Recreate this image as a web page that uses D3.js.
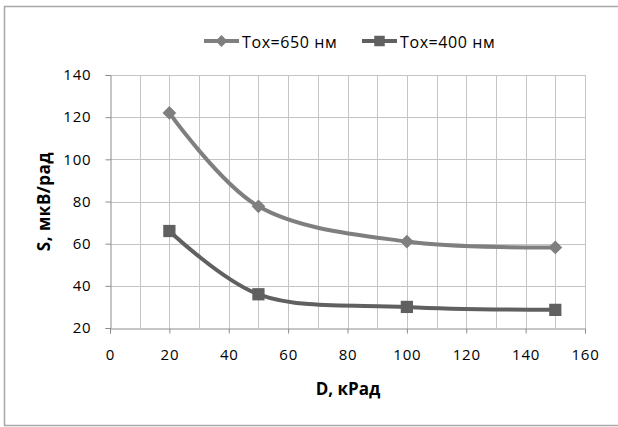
<!DOCTYPE html>
<html>
<head>
<meta charset="utf-8">
<script src="https://cdn.jsdelivr.net/npm/d3@7/dist/d3.min.js"></script>
<style>
  body { margin: 0; background: #fff; }
  svg { display: block; font-family: "Open Sans", "Liberation Sans", sans-serif; }
</style>
</head>
<body>
<svg id="chart" width="618" height="427"></svg>
<script>
// chart data
var doses = [20, 50, 100, 150];
var tox650 = [122, 77.7, 61, 58.2];
var tox400 = [66, 36, 30, 28.6];
var seriesNames = ["Tox=650 нм", "Tox=400 нм"];
var xTicks = [0, 20, 40, 60, 80, 100, 120, 140, 160];
var yTicks = [20, 40, 60, 80, 100, 120, 140];

var svg = d3.select("#chart");
// plot box (window.top is reserved, so prefixed names)
var plotLeft = 110, plotRight = 585, plotTop = 75, plotBottom = 328;

// outer frame of the chart area
svg.append("rect")
  .attr("x", 4.5).attr("y", 6.5)
  .attr("width", 640).attr("height", 419)
  .attr("fill", "none").attr("stroke", "#a6a6a6").attr("stroke-width", 1.5);

var x = d3.scaleLinear().domain([0, 160]).range([plotLeft, plotRight]);
var y = d3.scaleLinear().domain([20, 140]).range([plotBottom, plotTop]);

// gridlines: every 10 on x, every 20 on y
var grid = svg.append("g").attr("stroke", "#c4c4c4").attr("stroke-width", 1);
grid.selectAll(".vx").data(d3.range(10, 161, 10)).enter().append("line")
  .attr("x1", function (d) { return Math.round(x(d)) + 0.5; })
  .attr("x2", function (d) { return Math.round(x(d)) + 0.5; })
  .attr("y1", plotTop).attr("y2", plotBottom);
grid.selectAll(".hy").data(yTicks.slice(1)).enter().append("line")
  .attr("x1", plotLeft).attr("x2", plotRight)
  .attr("y1", function (d) { return Math.round(y(d)) + 0.5; })
  .attr("y2", function (d) { return Math.round(y(d)) + 0.5; });

// axes
var xAxis = svg.append("g")
  .attr("transform", "translate(0," + (Math.round(plotBottom) + 0.5) + ")")
  .call(d3.axisBottom(x).tickValues(xTicks).tickSize(5).tickPadding(16));
var yAxis = svg.append("g")
  .attr("transform", "translate(" + (Math.round(plotLeft) + 0.5) + ",0)")
  .call(d3.axisLeft(y).tickValues(yTicks).tickSize(5).tickPadding(14));
[xAxis, yAxis].forEach(function (ax) {
  ax.select(".domain").attr("stroke", "#8c8c8c");
  ax.selectAll(".tick line").attr("stroke", "#8c8c8c");
  ax.selectAll(".tick text").attr("fill", "#000").style("font-size", "15px")
    .style("letter-spacing", "0.8px")
    .style("font-family", "\"Open Sans\", sans-serif");
});

// axis titles
svg.append("text")
  .attr("x", 348).attr("y", 395)
  .attr("text-anchor", "middle")
  .style("font-size", "17px").style("font-weight", "bold")
  .text("D, кРад");
svg.append("text")
  .attr("transform", "translate(50," + ((plotTop + plotBottom) / 2) + ") rotate(-90)")
  .attr("text-anchor", "middle")
  .style("font-size", "17px").style("font-weight", "bold")
  .style("letter-spacing", "0.5px")
  .text("S, мкВ/рад");

// lines
var series = [
  { name: seriesNames[0], values: tox650, color: "#7f7f7f", marker: "diamond" },
  { name: seriesNames[1], values: tox400, color: "#606060", marker: "square" }
];
var line = d3.line()
  .x(function (d, i) { return x(doses[i]); })
  .y(function (d) { return y(d); })
  .curve(d3.curveCatmullRom.alpha(0.5));

series.forEach(function (s) {
  svg.append("path")
    .attr("d", line(s.values))
    .attr("fill", "none").attr("stroke", s.color).attr("stroke-width", 4);
  var sym = s.marker === "diamond"
    ? d3.symbol().type(d3.symbolDiamond2).size(120)
    : d3.symbol().type(d3.symbolSquare).size(150);
  svg.selectAll(null).data(s.values).enter().append("path")
    .attr("d", sym)
    .attr("transform", function (d, i) { return "translate(" + x(doses[i]) + "," + y(d) + ")"; })
    .attr("fill", s.color);
});

// legend
var legendX = [204, 362];
series.forEach(function (s, i) {
  var g = svg.append("g").attr("transform", "translate(" + legendX[i] + ",41)");
  g.append("line").attr("x1", 0).attr("x2", 35).attr("y1", 0).attr("y2", 0)
    .attr("stroke", s.color).attr("stroke-width", 4);
  var sym = s.marker === "diamond"
    ? d3.symbol().type(d3.symbolDiamond2).size(90)
    : d3.symbol().type(d3.symbolSquare).size(110);
  g.append("path").attr("d", sym).attr("transform", "translate(17.5,0)").attr("fill", s.color);
  g.append("text").attr("x", 38).attr("y", 7)
    .style("font-size", "16px").style("letter-spacing", "0.6px").attr("fill", "#000")
    .text(s.name);
});
</script>
</body>
</html>
